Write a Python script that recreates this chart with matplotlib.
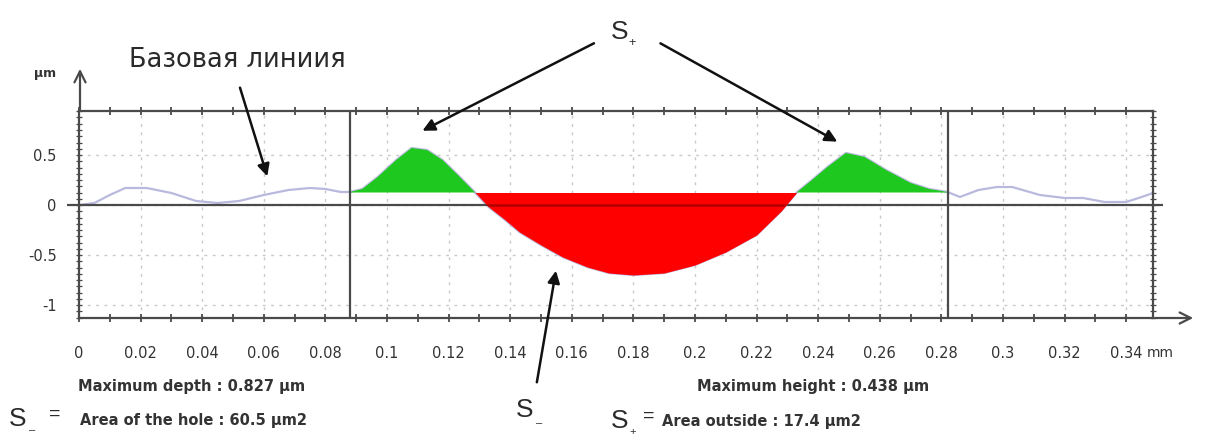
import numpy as np
import matplotlib
matplotlib.use('Agg')
from matplotlib import pyplot as plt
from matplotlib.ticker import MultipleLocator, FuncFormatter

plt.rcParams['font.family'] = ['Liberation Sans', 'DejaVu Sans']
plt.rcParams['axes.unicode_minus'] = False

# profile (mm, µm)
profile_x = [0, 0.005, 0.01, 0.015, 0.022, 0.03, 0.038, 0.045, 0.052, 0.06, 0.068, 0.075, 0.08,
             0.085, 0.088, 0.092, 0.097, 0.103, 0.108, 0.113, 0.118, 0.123, 0.1286, 0.133, 0.138,
             0.143, 0.15, 0.157, 0.165, 0.172, 0.18, 0.19, 0.2, 0.21, 0.22, 0.228, 0.233, 0.238,
             0.243, 0.249, 0.255, 0.262, 0.27, 0.276, 0.282, 0.286, 0.292, 0.298, 0.303, 0.312,
             0.32, 0.326, 0.333, 0.34, 0.345, 0.3487]
profile_y = [0, 0.02, 0.1, 0.17, 0.17, 0.12, 0.04, 0.02, 0.04, 0.1, 0.15, 0.17, 0.16,
             0.13, 0.13, 0.16, 0.28, 0.45, 0.57, 0.55, 0.45, 0.3, 0.125, -0.02, -0.14,
             -0.27, -0.4, -0.52, -0.62, -0.68, -0.70, -0.68, -0.6, -0.47, -0.3, -0.06, 0.125, 0.25,
             0.38, 0.52, 0.48, 0.35, 0.22, 0.16, 0.13, 0.08, 0.15, 0.18, 0.18, 0.1,
             0.07, 0.07, 0.03, 0.03, 0.08, 0.12]

region_start = 0.088
region_end = 0.282
reference_level = 0.125

x_ticks = [0, 0.02, 0.04, 0.06, 0.08, 0.1, 0.12, 0.14, 0.16, 0.18, 0.2, 0.22, 0.24, 0.26,
           0.28, 0.3, 0.32, 0.34]
y_ticks = [-1, -0.5, 0, 0.5]

base_label = 'Базовая линиия'
depth_text = 'Maximum depth : 0.827 µm'
hole_text = 'Area of the hole : 60.5 µm2'
height_text = 'Maximum height : 0.438 µm'
outside_text = 'Area outside : 17.4 µm2'

W, H = 1205, 436
frame_col = '#4a4a4a'
text_col = '#333333'
wide = ['DejaVu Sans']


def px(x, y):
    return x / W, 1 - y / H


fig = plt.figure(figsize=(W / 100, H / 100), dpi=100)
ax = fig.add_axes([79 / W, (H - 318) / H, (1153 - 79) / W, (318 - 111) / H])
ax.set_xlim(0, 0.3487)
ax.set_ylim(-1.13, 0.94)

x = np.array(profile_x)
y = np.array(profile_y)

ax.plot(x, y, color='#b9b9de', lw=1.6, zorder=2)
inside = (x >= region_start) & (x <= region_end)
ax.fill_between(x[inside], y[inside], reference_level, where=y[inside] >= reference_level,
                color='#1ec81e', lw=0, zorder=3, interpolate=True)
red = ax.fill_between(x[inside], y[inside], reference_level, where=y[inside] <= reference_level,
                      color='#ff0000', lw=0, zorder=5, interpolate=True)

# zero line and region bounds
ax.hlines(0, -0.004, 0.352, color=frame_col, lw=1.6, zorder=4, clip_on=False)
dark = ax.axhline(0, color='#b00000', lw=1.8, zorder=6)
dark.set_clip_path(red.get_paths()[0], ax.transData)
ax.axvline(region_start, color=frame_col, lw=1.6, zorder=4)
ax.axvline(region_end, color=frame_col, lw=1.6, zorder=4)

ax.grid(True, which='major', color='#c8c8c8', ls=(0, (2, 4)), lw=1)

for s in ax.spines.values():
    s.set_color(frame_col)
    s.set_linewidth(1.6)

ax.set_xticks(x_ticks)
ax.xaxis.set_minor_locator(MultipleLocator(0.01))
ax.set_yticks(y_ticks)
ax.yaxis.set_minor_locator(MultipleLocator(0.0625))
ax.xaxis.set_major_formatter(FuncFormatter(lambda v, p: ('%.2f' % v).rstrip('0').rstrip('.')))
ax.yaxis.set_major_formatter(FuncFormatter(lambda v, p: ('%.1f' % v).rstrip('0').rstrip('.')))
ax.tick_params(axis='x', which='both', top=True, direction='inout', color=frame_col,
               length=6, width=1.3, labelsize=10.5, labelcolor=text_col, pad=17)
ax.tick_params(axis='y', which='both', right=True, direction='inout', color=frame_col,
               length=4, width=0.9, labelsize=10.5, labelcolor=text_col, pad=14)
for lab in ax.get_xticklabels() + ax.get_yticklabels():
    lab.set_family(wide)

# axis arrows
ax.annotate('', xy=px(80, 66), xycoords='figure fraction', xytext=px(80, 112),
            textcoords='figure fraction',
            arrowprops=dict(arrowstyle='->', color=frame_col, lw=1.6, mutation_scale=20))
ax.annotate('', xy=px(1196, 318), xycoords='figure fraction', xytext=px(1152, 318),
            textcoords='figure fraction',
            arrowprops=dict(arrowstyle='->', color=frame_col, lw=1.6, mutation_scale=20))
fig.text(*px(45, 73), 'µm', fontsize=9, fontweight='bold', color=text_col, ha='center',
         va='center', family=wide)
fig.text(*px(1147, 353), 'mm', fontsize=10, color=text_col, ha='left', va='center', family=wide)

# callouts
fig.text(*px(237, 60), base_label, fontsize=18.5, color='#2a2a2a', ha='center', va='center',
         family=wide)
ax.annotate('', xy=(0.0614, 0.26), xytext=(0.052, 1.2), xycoords='data', annotation_clip=False,
            arrowprops=dict(arrowstyle='-|>', color='#111111', lw=1.8, mutation_scale=18))

fig.text(*px(620, 32), 'S', fontsize=19, color='#2a2a2a', ha='center', va='center')
fig.text(*px(632, 43), '+', fontsize=9, color='#2a2a2a', ha='center', va='center')
ax.annotate('', xy=(0.1107, 0.73), xytext=(0.168, 1.63), xycoords='data', annotation_clip=False,
            arrowprops=dict(arrowstyle='-|>', color='#111111', lw=1.8, mutation_scale=18))
ax.annotate('', xy=(0.247, 0.62), xytext=(0.188, 1.63), xycoords='data', annotation_clip=False,
            arrowprops=dict(arrowstyle='-|>', color='#111111', lw=1.8, mutation_scale=18))

fig.text(*px(525, 410), 'S', fontsize=19, color='#2a2a2a', ha='center', va='center')
fig.text(*px(539, 423), '–', fontsize=8, color='#2a2a2a', ha='center', va='center')
ax.annotate('', xy=(0.155, -0.63), xytext=(0.1485, -1.8), xycoords='data', annotation_clip=False,
            arrowprops=dict(arrowstyle='-|>', color='#111111', lw=1.8, mutation_scale=18))

# bottom info
info = dict(fontsize=10.5, fontweight='bold', color=text_col, va='center', family=wide)
fig.text(*px(78, 387), depth_text, **info)
fig.text(*px(697, 387), height_text, **info)

fig.text(*px(18, 419), 'S', fontsize=19, color='#2a2a2a', ha='center', va='center')
fig.text(*px(32, 430), '–', fontsize=8, color='#2a2a2a', ha='center', va='center')
fig.text(*px(55, 414), '=', fontsize=14, color='#2a2a2a', ha='center', va='center')
fig.text(*px(80, 420), hole_text, **info)

fig.text(*px(620, 421), 'S', fontsize=19, color='#2a2a2a', ha='center', va='center')
fig.text(*px(633, 432), '+', fontsize=8, color='#2a2a2a', ha='center', va='center')
fig.text(*px(649, 416), '=', fontsize=14, color='#2a2a2a', ha='center', va='center')
fig.text(*px(662, 421), outside_text, **info)

fig.savefig('out.png', dpi=100)
